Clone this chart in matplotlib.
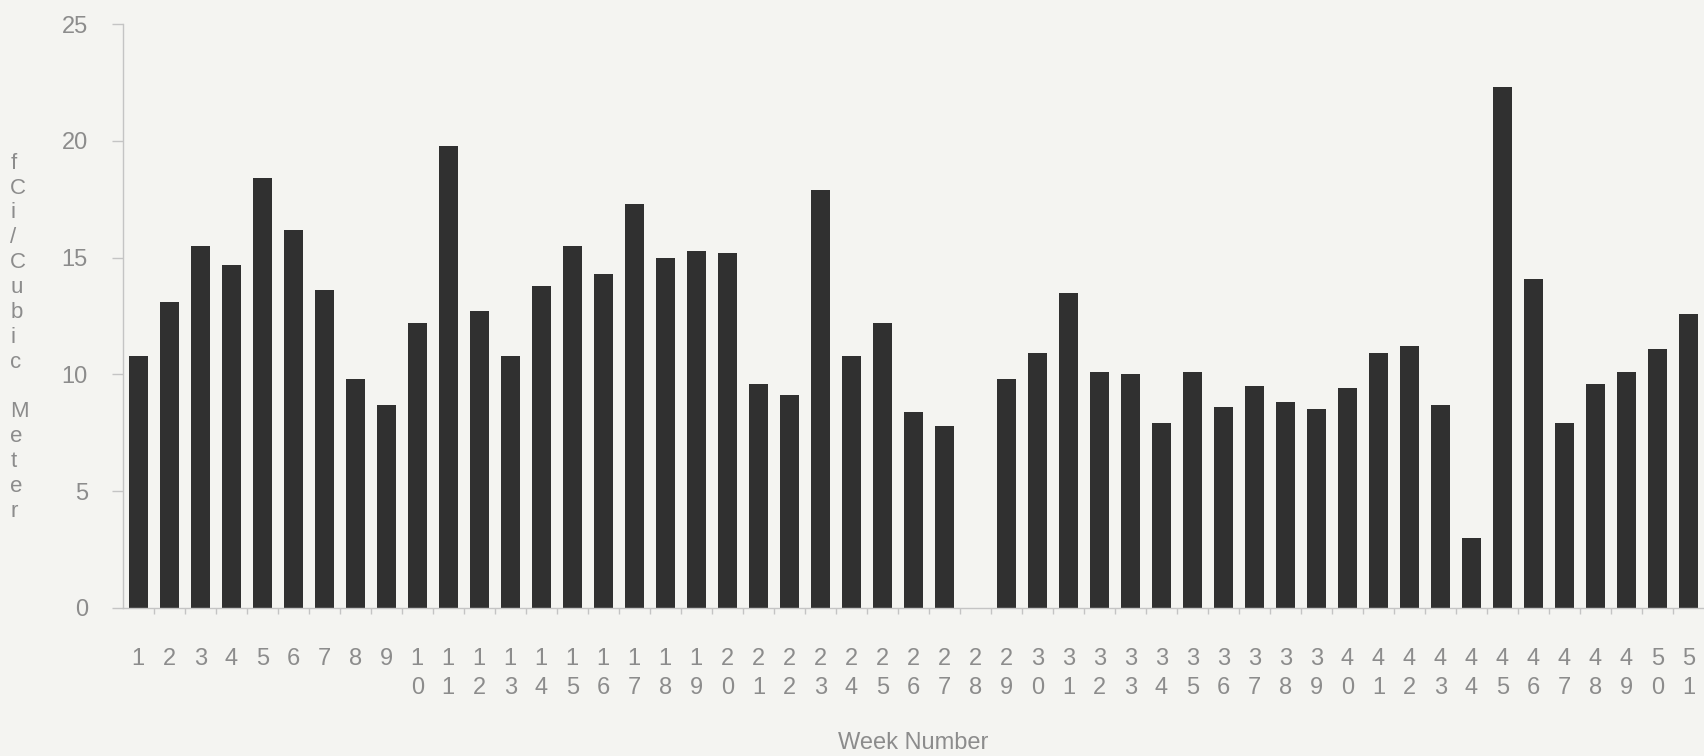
import numpy as np
import matplotlib
matplotlib.use("Agg")
import matplotlib.pyplot as plt

# Weekly air concentration readings (fCi / cubic meter); week 28 has no sample
weeks = list(range(1, 52))
values = [10.8, 13.1, 15.5, 14.7, 18.4, 16.2, 13.6, 9.8, 8.7, 12.2,
          19.8, 12.7, 10.8, 13.8, 15.5, 14.3, 17.3, 15.0, 15.3, 15.2,
          9.6, 9.1, 17.9, 10.8, 12.2, 8.4, 7.8, np.nan, 9.8, 10.9,
          13.5, 10.1, 10.0, 7.9, 10.1, 8.6, 9.5, 8.8, 8.5, 9.4,
          10.9, 11.2, 8.7, 3.0, 22.3, 14.1, 7.9, 9.6, 10.1, 11.1,
          12.6]
y_ticks = [0, 5, 10, 15, 20, 25]
y_label = "fCi/Cubic Meter"
x_label = "Week Number"

BG = "#f4f4f1"
BAR = "#303030"
TXT = "#8c8c8c"
AXIS = "#c4c4c4"

fig = plt.figure(figsize=(17.04, 7.56), dpi=100, facecolor=BG)
ax = fig.add_axes([0.072, 0.196, 0.928, 0.772], facecolor=BG)

ax.bar(weeks, values, width=0.62, color=BAR, edgecolor="none")

ax.set_xlim(0.5, 51.5)
ax.set_ylim(0, 25)

for s in ["top", "right"]:
    ax.spines[s].set_visible(False)
for s in ["left", "bottom"]:
    ax.spines[s].set_color(AXIS)
    ax.spines[s].set_linewidth(1.0)

ax.set_yticks(y_ticks)
ax.set_yticklabels([str(t) for t in y_ticks], fontsize=17,
                   family="Liberation Sans", color=TXT)
ax.tick_params(axis="y", length=8, width=1, color=AXIS, pad=17)

# stacked digits under every bar
ax.set_xticks(weeks)
ax.set_xticklabels(["\n".join(str(w)) for w in weeks], fontsize=17,
                   family="Liberation Sans", color=TXT, linespacing=1.4,
                   va="top")
ax.tick_params(axis="x", which="major", length=0, pad=29)
ax.set_xticks(np.arange(1.5, 51, 1), minor=True)
ax.tick_params(axis="x", which="minor", length=4, width=1, color=AXIS)

ax.set_xlabel(x_label, fontsize=17, family="Liberation Sans", color=TXT,
              labelpad=24)

# vertical letter-by-letter y label
fig.text(0.006, 0.554, "\n".join(y_label), fontsize=16,
         family="Liberation Sans", color=TXT, ha="left", va="center",
         linespacing=1.24)

fig.savefig("out.png", dpi=100, facecolor=BG)
plt.close(fig)
